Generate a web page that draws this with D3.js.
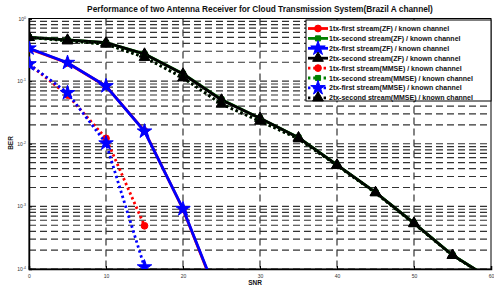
<!DOCTYPE html>
<html>
<head>
<meta charset="utf-8">
<script src="https://cdn.jsdelivr.net/npm/d3@7"></script>
<style>
  body { margin: 0; background: #fff; }
  svg { display: block; font-family: "Liberation Sans", Arial, sans-serif; }
</style>
</head>
<body>
<svg id="chart" width="494" height="288"></svg>
<script>
var snr = [0, 5, 10, 15, 20, 25, 30, 35, 40, 45, 50, 55, 60]

var zf1First = [0.33, 0.195, 0.083, 0.016, 9e-4, 2.5e-5]
var zf1Second = [0.5, 0.455, 0.41, 0.272, 0.131, 0.051, 0.0256, 0.0126, 0.0046, 0.00168, 0.00054, 0.000167, 0.000069]
var zf2First = [0.335, 0.197, 0.0835, 0.0158, 9.1e-4, 2.6e-5]
var zf2Second = [0.5, 0.454, 0.41, 0.271, 0.13, 0.05, 0.0255, 0.0125, 0.0046, 0.00167, 0.00054, 0.000166, 0.000069]
var mmse1First = [0.187, 0.06, 0.0122, 4.9e-4]
var mmse1Second = [0.5, 0.44, 0.39, 0.24, 0.113, 0.043, 0.023, 0.012, 0.0045, 0.00165, 0.00053, 0.000165, 0.000068]
var mmse2First = [0.187, 0.065, 0.0102, 1.07e-4]
var mmse2Second = [0.5, 0.44, 0.39, 0.24, 0.113, 0.043, 0.023, 0.012, 0.0045, 0.00165, 0.00053, 0.000165, 0.000068]

var names = [
  '1tx-first stream(ZF) / known channel',
  '1tx-second stream(ZF) / known channel',
  '2tx-first stream(ZF) / known channel',
  '2tx-second stream(ZF) / known channel',
  '1tx-first stream(MMSE) / known channel',
  '1tx-second stream(MMSE) / known channel',
  '2tx-first stream(MMSE) / known channel',
  '2tx-second stream(MMSE) / known channel'
]
var values = [zf1First, zf1Second, zf2First, zf2Second, mmse1First, mmse1Second, mmse2First, mmse2Second]
var colors = ['#ff0000', '#008000', '#0000ff', '#000000', '#ff0000', '#008000', '#0000ff', '#000000']
var markers = ['circle', 'square', 'star', 'triangle', 'circle', 'square', 'star', 'triangle']
var dotted = [false, false, false, false, true, true, true, true]

var xTicks = [0, 10, 20, 30, 40, 50, 60]
var yTicks = [-4, -3, -2, -1, 0]

var pLeft = 29, pRight = 491, pTop = 18.5, pBottom = 269
var svg = d3.select('#chart')

var x = d3.scaleLinear().domain([0, 60]).range([pLeft, pRight])
var y = d3.scaleLog().domain([1e-4, 1]).range([pBottom, pTop])

svg.append('defs').append('clipPath').attr('id', 'clip')
  .append('rect').attr('x', pLeft).attr('y', pTop).attr('width', pRight - pLeft).attr('height', pBottom - pTop)

// grid
var minor = []
for (var e = -4; e < 0; e++) for (var m = 1; m < 10; m++) minor.push(m * Math.pow(10, e))
svg.append('g').selectAll('line').data(minor).enter().append('line')
  .attr('x1', pLeft).attr('x2', pRight)
  .attr('y1', function(d){ return y(d) }).attr('y2', function(d){ return y(d) })
  .attr('stroke', '#333').attr('stroke-width', 1.2).attr('stroke-dasharray', '7,4')
svg.append('g').selectAll('line').data(xTicks.slice(1, -1)).enter().append('line')
  .attr('x1', function(d){ return x(d) }).attr('x2', function(d){ return x(d) })
  .attr('y1', pTop).attr('y2', pBottom)
  .attr('stroke', '#333').attr('stroke-width', 1.2).attr('stroke-dasharray', '7,4')

// axes
var xAxis = svg.append('g').attr('transform', 'translate(0,' + pBottom + ')')
  .call(d3.axisBottom(x).tickValues(xTicks).tickSize(-3).tickPadding(5))
xAxis.selectAll('text').attr('font-size', 5).attr('fill', '#333')
var yAxis = svg.append('g').attr('transform', 'translate(' + pLeft + ',0)')
  .call(d3.axisLeft(y).tickValues(yTicks.map(function(e){ return Math.pow(10, e) })).tickSize(-3).tickFormat(''))
svg.selectAll('.domain').attr('stroke', '#000').attr('stroke-width', 1.5)
svg.selectAll('.tick line').attr('stroke', '#000')
svg.append('rect').attr('x', pLeft).attr('y', pTop).attr('width', pRight - pLeft).attr('height', pBottom - pTop)
  .attr('fill', 'none').attr('stroke', '#000').attr('stroke-width', 1)

var yl = svg.append('g').selectAll('text').data(yTicks).enter().append('text')
  .attr('x', pLeft - 3).attr('y', function(d){ return y(Math.pow(10, d)) + 2 })
  .attr('text-anchor', 'end').attr('font-size', 5).attr('fill', '#333')
yl.append('tspan').text('10')
yl.append('tspan').attr('dy', -2).attr('font-size', 3.5).text(function(d){ return d })

// marker shapes
function symbolFor(m) {
  if (m == 'circle') return d3.symbol().type(d3.symbolCircle).size(36)
  if (m == 'square') return d3.symbol().type(d3.symbolSquare).size(26)
  if (m == 'star') return d3.symbol().type(d3.symbolStar).size(65)
  return d3.symbol().type(d3.symbolTriangle).size(50)
}

var plot = svg.append('g').attr('clip-path', 'url(#clip)')
var line = d3.line().x(function(d){ return x(d[0]) }).y(function(d){ return y(d[1]) })

for (var s = 0; s < values.length; s++) {
  var pts = values[s].map(function(v, i){ return [snr[i], v] })
  plot.append('path').datum(pts)
    .attr('d', line).attr('fill', 'none').attr('stroke', colors[s])
    .attr('stroke-width', 2.8)
    .attr('stroke-dasharray', dotted[s] ? '2.4,2.8' : null)
  plot.selectAll('.m' + s).data(pts).enter().append('path')
    .attr('transform', function(d){ return 'translate(' + x(d[0]) + ',' + y(d[1]) + ')' })
    .attr('d', symbolFor(markers[s])()).attr('fill', colors[s]).attr('stroke', colors[s])
}

// title and labels
svg.append('text').attr('x', 260).attr('y', 12).attr('text-anchor', 'middle')
  .attr('font-size', 8.3).attr('font-weight', 'bold').attr('fill', '#111')
  .text('Performance of two Antenna Receiver for Cloud Transmission System(Brazil A channel)')
svg.append('text').attr('x', 255).attr('y', 285).attr('text-anchor', 'middle')
  .attr('font-size', 6.5).attr('font-weight', 'bold').attr('fill', '#111').text('SNR')
svg.append('text').attr('transform', 'translate(13,' + 143 + ')rotate(-90)').attr('text-anchor', 'middle')
  .attr('font-size', 6.5).attr('font-weight', 'bold').attr('fill', '#111').text('BER')

// legend
var lx = 306, ly = 20, lw = 185, lh = 81
var legend = svg.append('g')
legend.append('rect').attr('x', lx).attr('y', ly).attr('width', lw).attr('height', lh)
  .attr('fill', '#fff').attr('stroke', '#000').attr('stroke-width', 1)
for (var k = 0; k < names.length; k++) {
  var ry = ly + 8.5 + k * 9.9
  legend.append('line').attr('x1', lx + 2).attr('x2', lx + 22).attr('y1', ry).attr('y2', ry)
    .attr('stroke', colors[k]).attr('stroke-width', 2.8).attr('stroke-dasharray', dotted[k] ? '2.4,2.8' : null)
  legend.append('path').attr('transform', 'translate(' + (lx + 12) + ',' + ry + ')')
    .attr('d', symbolFor(markers[k])()).attr('fill', colors[k]).attr('stroke', colors[k])
  legend.append('text').attr('x', lx + 23).attr('y', ry + 2.5)
    .attr('font-size', 7).attr('font-weight', 'bold').attr('fill', '#111').text(names[k])
}
</script>
</body>
</html>
